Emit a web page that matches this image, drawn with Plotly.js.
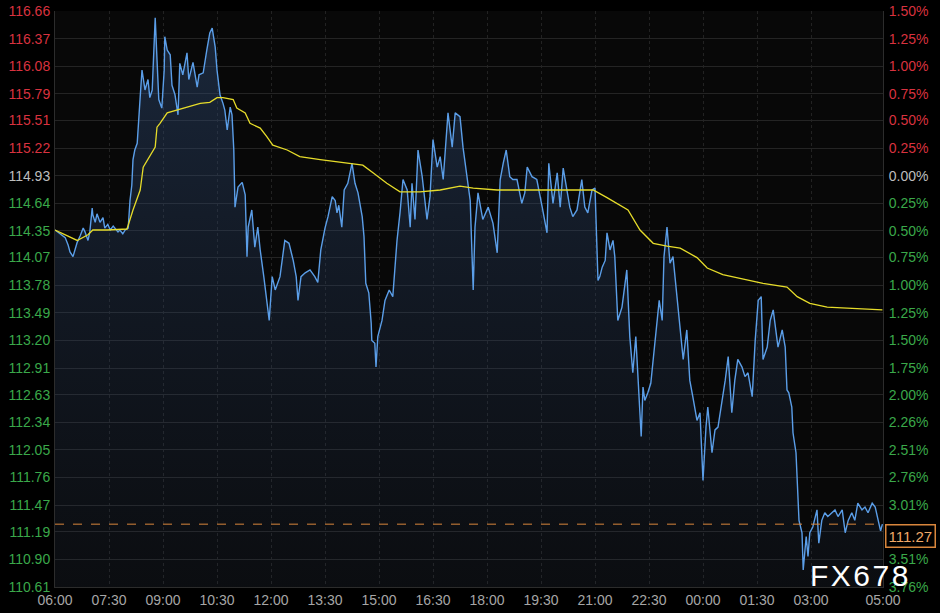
<!DOCTYPE html>
<html>
<head>
<meta charset="utf-8">
<script src="https://cdn.plot.ly/plotly-3.0.1.min.js"></script>
<style>
  html, body { margin: 0; padding: 0; background: #000; }
  #chart { width: 940px; height: 613px; }
</style>
</head>
<body>
<div id="chart"></div>
<script>
// ---- data (minutes after 06:00, prices) ----
const priceMinutes = [0,8,17,22,25,30,33,37,42,47,50,55,58,62,63,67,70,75,80,83,88,92,97,100,105,108,113,117,122,125,128,130,133,137,140,142,145,150,155,158,162,165,167,170,173,178,182,183,187,192,195,200,205,208,213,220,223,230,237,240,247,253,258,262,267,270,275,280,283,287,292,295,298,300,305,312,317,320,322,328,333,338,342,348,353,357,362,367,375,383,390,397,402,405,410,417,425,433,438,443,450,455,462,467,470,473,478,482,488,495,500,505,512,515,518,523,527,528,533,535,538,545,550,557,563,570,575,580,587,592,595,600,605,612,620,625,630,637,642,647,655,662,667,675,680,687,692,697,700,705,713,722,730,737,742,747,752,758,763,770,778,783,787,795,803,812,820,823,830,837,842,847,853,858,863,870,878,883,888,895,900,903,905,908,912,917,920,925,930,933,938,945,950,953,958,963,968,972,977,980,983,988,993,997,1003,1007,1012,1015,1020,1025,1030,1035,1040,1047,1053,1058,1063,1070,1075,1080,1085,1088,1095,1100,1105,1112,1117,1122,1128,1133,1138,1145,1150,1155,1162,1167,1172,1177,1180,1187,1192,1197,1202,1205,1212,1217,1220,1223,1228,1230,1235,1237,1240,1245,1247,1252,1255,1258,1263,1270,1273,1278,1283,1288,1295,1300,1305,1312,1317,1322,1328,1333,1338,1345,1350,1355,1362,1367,1372,1376,1379];
const prices = [114.36,114.32,114.28,114.20,114.13,114.08,114.15,114.23,114.30,114.38,114.34,114.25,114.34,114.59,114.52,114.44,114.53,114.44,114.49,114.38,114.42,114.36,114.40,114.38,114.34,114.36,114.32,114.36,114.38,114.67,114.83,115.10,115.20,115.27,115.51,115.76,116.04,115.83,115.94,115.75,115.83,116.30,116.59,116.15,115.73,115.64,116.04,116.39,116.25,116.20,115.88,115.78,115.57,116.11,115.99,116.22,115.94,116.12,115.86,115.99,116.01,116.25,116.43,116.48,116.28,116.04,115.78,115.69,115.62,115.41,115.65,115.57,115.20,114.60,114.81,114.86,114.73,114.08,114.39,114.57,114.18,114.39,114.15,113.87,113.59,113.41,113.87,113.73,113.87,114.25,114.22,114.04,113.87,113.62,113.87,113.91,113.94,113.87,113.81,114.15,114.38,114.50,114.71,114.67,114.54,114.62,114.39,114.78,114.85,115.06,114.85,114.75,114.50,114.29,113.80,113.70,113.38,113.20,113.17,112.92,113.24,113.41,113.62,113.73,113.66,114.25,114.54,114.89,114.78,114.39,114.85,114.47,115.20,114.92,114.47,114.71,115.31,115.02,115.13,114.89,115.59,115.23,115.59,115.55,115.23,114.92,114.67,113.73,114.39,114.75,114.47,114.60,114.43,114.12,114.89,115.06,115.20,114.92,114.89,114.89,114.64,114.75,115.02,114.92,114.89,114.60,114.33,115.06,114.64,114.96,114.60,115.01,114.78,114.60,114.50,114.57,114.89,114.60,114.54,114.78,114.80,114.25,113.83,113.87,113.97,114.04,114.33,114.15,114.25,114.08,113.41,113.55,113.83,113.94,113.24,112.86,113.24,112.82,112.19,112.71,112.57,112.65,112.75,113.00,113.34,113.62,113.41,114.08,114.39,114.01,114.08,113.76,113.41,113.00,113.31,112.78,112.61,112.36,112.44,111.73,112.29,112.50,112.02,112.26,112.29,112.57,112.78,113.03,112.44,112.78,113.00,112.92,112.82,112.86,112.61,113.20,113.62,113.66,113.00,113.13,113.41,113.52,113.28,113.13,113.31,113.13,112.68,112.65,112.50,112.23,112.02,111.73,111.31,111.18,110.79,111.14,110.93,111.18,111.24,111.42,111.07,111.31,111.39,111.35,111.39,111.42,111.35,111.42,111.18,111.31,111.39,111.31,111.49,111.42,111.45,111.39,111.49,111.45,111.31,111.20,111.27];

const avgMinutes = [0,25,37,55,63,87,120,130,142,147,158,167,170,175,187,203,220,242,258,270,280,297,303,317,325,342,353,363,387,408,442,487,513,530,553,575,608,642,675,697,737,792,897,920,955,975,997,1020,1042,1070,1087,1113,1142,1180,1220,1237,1258,1287,1320,1379];
const avgPrices = [114.36,114.29,114.25,114.31,114.36,114.36,114.37,114.57,114.78,115.02,115.13,115.23,115.44,115.48,115.59,115.62,115.65,115.69,115.70,115.75,115.75,115.73,115.64,115.59,115.48,115.43,115.34,115.25,115.20,115.13,115.10,115.06,115.04,114.96,114.85,114.76,114.76,114.78,114.82,114.80,114.78,114.78,114.78,114.70,114.57,114.36,114.22,114.19,114.17,114.07,113.96,113.89,113.85,113.80,113.76,113.66,113.59,113.55,113.54,113.52];

const prevClose = 114.93;
const lastPrice = 111.27;

const priceTicks = [116.66,116.37,116.08,115.79,115.51,115.22,114.93,114.64,114.35,114.07,113.78,113.49,113.20,112.91,112.63,112.34,112.05,111.76,111.47,111.19,110.90,110.61];
const pctLabels = ['1.50%','1.25%','1.00%','0.75%','0.50%','0.25%','0.00%','0.25%','0.50%','0.75%','1.00%','1.25%','1.50%','1.75%','2.00%','2.26%','2.51%','2.76%','3.01%','3.26%','3.51%','3.76%'];

const timeTickMinutes = [0,90,180,270,360,450,540,630,720,810,900,990,1080,1170,1260,1380];
const timeTickLabels = ['06:00','07:30','09:00','10:30','12:00','13:30','15:00','16:30','18:00','19:30','21:00','22:30','00:00','01:30','03:00','05:00'];

// ---- styling ----
const RED = '#d8323f', GREEN = '#3aa84a', GREY = '#bdbdbd';
function colorFor(p) { return p > prevClose + 1e-6 ? RED : (p < prevClose - 1e-6 ? GREEN : GREY); }
const leftText = priceTicks.map(p => '<span style="color:' + colorFor(p) + '">' + p.toFixed(2) + '</span>');
const rightText = priceTicks.map((p, i) => '<span style="color:' + colorFor(p) + '">' + pctLabels[i] + '</span>');

const yRange = [priceTicks[priceTicks.length - 1], priceTicks[0]];

const traces = [
  {
    x: priceMinutes, y: prices, type: 'scatter', mode: 'lines',
    line: { color: '#5b9ee8', width: 1.4 },
    fill: 'tozeroy',
    fillgradient: {
      type: 'vertical',
      start: yRange[0], stop: yRange[1],
      colorscale: [[0, 'rgba(40,60,95,0.10)'], [0.6, 'rgba(45,70,110,0.30)'], [1, 'rgba(50,80,125,0.45)']]
    },
    hoverinfo: 'skip', showlegend: false
  },
  {
    x: avgMinutes, y: avgPrices, type: 'scatter', mode: 'lines',
    line: { color: '#e6dc2a', width: 1.3 },
    hoverinfo: 'skip', showlegend: false
  },
  {
    x: [timeTickMinutes[0], timeTickMinutes[timeTickMinutes.length - 1]], y: yRange,
    yaxis: 'y2', type: 'scatter', mode: 'markers',
    marker: { opacity: 0 }, hoverinfo: 'skip', showlegend: false
  }
];

const layout = {
  width: 940, height: 613,
  paper_bgcolor: '#000000', plot_bgcolor: '#080808',
  margin: { l: 55, r: 57, t: 11, b: 26, pad: 0 },
  font: { family: 'Arial, "Liberation Sans", sans-serif', size: 14, color: '#a8a8a8' },
  xaxis: {
    range: [timeTickMinutes[0], timeTickMinutes[timeTickMinutes.length - 1]],
    tickmode: 'array', tickvals: timeTickMinutes, ticktext: timeTickLabels,
    showgrid: true, gridcolor: '#222222', griddash: 'dot', gridwidth: 1,
    showline: true, linecolor: '#2c2c2c', zeroline: false,
    ticks: '', tickfont: { size: 14, color: '#a6a6a6' }
  },
  yaxis: {
    range: yRange, tickmode: 'array', tickvals: priceTicks, ticktext: leftText,
    showgrid: true, gridcolor: '#242424', gridwidth: 1,
    showline: true, linecolor: '#2c2c2c', zeroline: false, ticks: '',
    tickfont: { size: 14 }, ticklabelstandoff: 1
  },
  yaxis2: {
    range: yRange, overlaying: 'y', side: 'right',
    tickmode: 'array', tickvals: priceTicks, ticktext: rightText,
    showgrid: false, showline: true, linecolor: '#2c2c2c', zeroline: false, ticks: '',
    tickfont: { size: 14 }, ticklabelstandoff: 2
  },
  shapes: [{
    type: 'line', xref: 'paper', x0: 0, x1: 1, yref: 'y', y0: lastPrice, y1: lastPrice,
    line: { color: '#d9863c', width: 1, dash: 'dash' }
  }],
  annotations: [
    {
      xref: 'paper', x: 1.002, xanchor: 'left', yref: 'y', y: lastPrice, yanchor: 'top',
      text: lastPrice.toFixed(2), showarrow: false,
      font: { size: 15, color: '#f0a868' },
      bgcolor: '#000000', bordercolor: '#d9863c', borderwidth: 1.5, borderpad: 2
    },
    {
      xref: 'paper', x: 0.971, xanchor: 'center', yref: 'paper', y: 0.02, yanchor: 'middle',
      text: 'F\u200AX\u200A6\u200A7\u200A8', showarrow: false,
      font: { size: 30, color: '#ffffff', family: 'Arial, "Liberation Sans", sans-serif' }
    }
  ]
};

Plotly.newPlot('chart', traces, layout, { staticPlot: true, displayModeBar: false });
</script>
</body>
</html>
